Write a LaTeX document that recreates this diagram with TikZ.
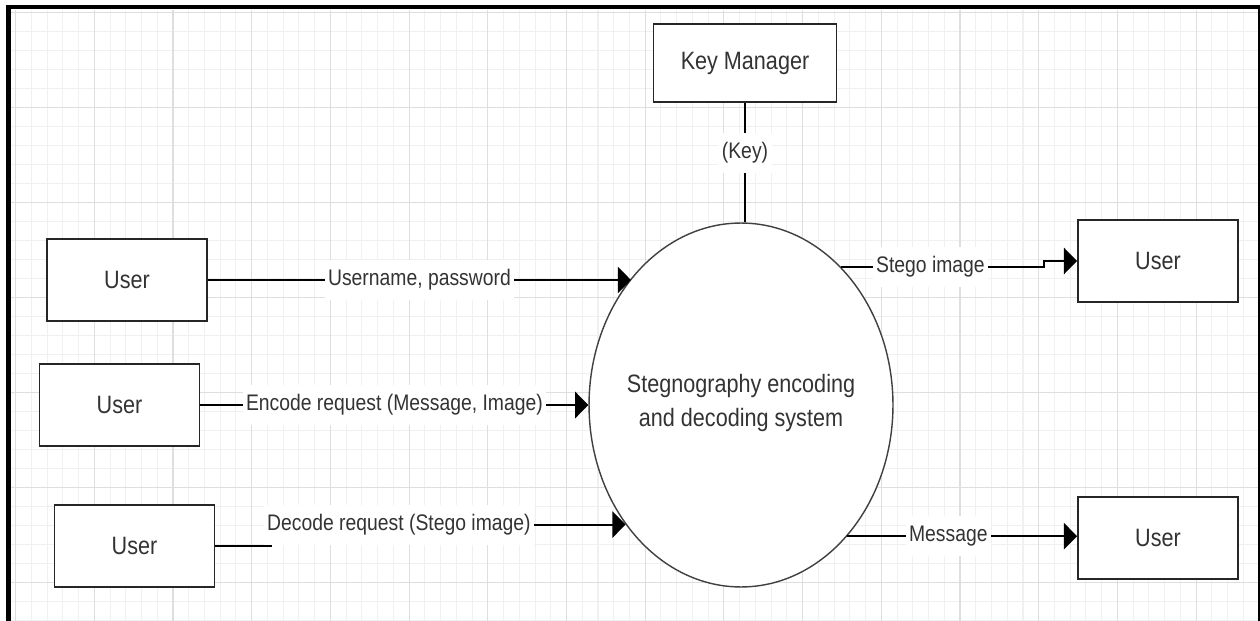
\documentclass[tikz,border=0pt]{standalone}
\usepackage{fontspec}
\setmainfont{Liberation Sans}[FakeStretch=0.86]
\usetikzlibrary{arrows.meta,shapes.geometric}

\begin{document}
\begin{tikzpicture}[x=0.02cm,y=-0.02cm,
  entity/.style={draw=black!85,line width=1.1pt,fill=white,minimum width=3.2cm,minimum height=1.64cm,text=black!80,font=\fontsize{14.3}{17}\selectfont},
  process/.style={ellipse,draw=black!75,line width=0.8pt,fill=white,minimum width=6.08cm,minimum height=7.28cm,inner sep=0pt},
  flow/.style={line width=1.1pt,-{Triangle[length=7.5pt,width=15pt]}},
  lbl/.style={fill=white,text=black!80,font=\fontsize{12.8}{15}\selectfont,minimum height=0.8cm,inner xsep=2pt},
  gridminor/.style={black!6,line width=0.6pt},
  gridmajor/.style={black!13,line width=0.6pt}]
\useasboundingbox (0,0) rectangle (1260,621);
\fill[white] (0,0) rectangle (1260,621);

% grid paper
\foreach \i in {0,...,78} \draw[gridminor] (15.6+15.74*\i,10) -- (15.6+15.74*\i,621);
\foreach \j in {0,...,32} \draw[gridminor] (11,12.3+19*\j) -- (1258,12.3+19*\j);
\foreach \i in {0,...,15} \draw[gridmajor] (15.6+78.7*\i,10) -- (15.6+78.7*\i,621);
\foreach \j in {0,...,6} \draw[gridmajor] (11,12.3+95*\j) -- (1258,12.3+95*\j);

% frame
\draw[line width=0.1cm] (8.5,621) -- (8.5,5);
\draw[line width=0.08cm] (6,7) -- (1260,7);
\draw[line width=0.05cm] (1258.8,5) -- (1258.8,621);

% nodes
\node[entity,minimum width=3.66cm,minimum height=1.56cm] (km) at (745,63) {Key Manager};
\node[process] (sys) at (741,405) {};
\node[text=black!80,align=center,font=\fontsize{14.3}{19.5}\selectfont] (systxt) at (741,403) {Stegnography encoding\\and decoding system};

\node[entity] (u1) at (127,280) {User};
\node[entity] (u2) at (119.5,405) {User};
\node[entity] (u3) at (134.5,546) {User};
\node[entity] (u4) at (1158,261) {User};
\node[entity] (u5) at (1158,538) {User};

% data flows
\draw[line width=1.1pt] (km.south) -- node[lbl,pos=0.42] {(Key)} (km.south |- sys.north);
\draw[flow] (u1.east) -- node[lbl] {Username, password} (u1.east -| sys.131.5);
\draw[flow] (u2.east) -- node[lbl] {Encode request (Message, Image)} (u2.east -| sys.west);
\draw[flow] (u3.east) -- ++(56,0) |- node[lbl,pos=0.68] {Decode request (Stego image)} (sys.226.4);
\draw[flow] (sys.54.5) -| node[lbl,pos=0.22] {Stego image} ([xshift=-0.66cm]u4.west) -- (u4.west);
\draw[flow] (sys.309.3) -- node[lbl,pos=0.44] {Message} (sys.309.3 -| u5.west);
\end{tikzpicture}
\end{document}
